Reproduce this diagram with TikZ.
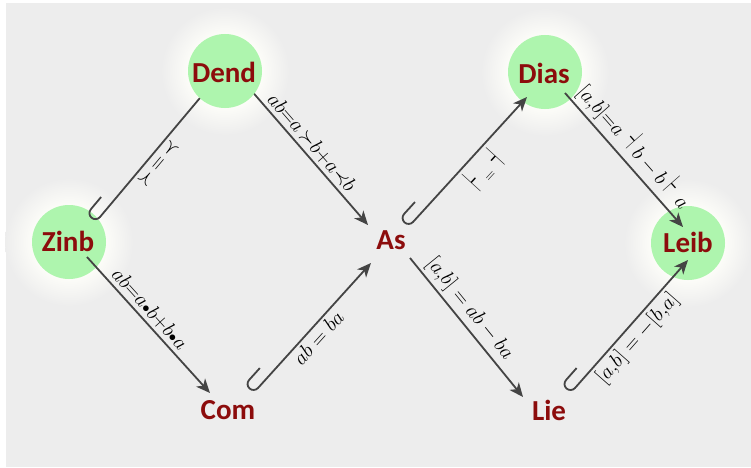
\documentclass[tikz,border=0pt]{standalone}
\usepackage{fontspec}
\usepackage{graphicx}
\newfontfamily\nodefont{Carlito}
\usetikzlibrary{arrows.meta,calc}
\definecolor{bgcol}{RGB}{237,237,237}
\definecolor{glowin}{RGB}{252,252,248}
\definecolor{nodegreen}{RGB}{174,245,174}
\definecolor{nodered}{RGB}{140,12,12}
\definecolor{linecol}{RGB}{68,68,68}
\pgfdeclareradialshading{glow}{\pgfpoint{0bp}{0bp}}{color(0bp)=(glowin); color(14.5bp)=(glowin); color(25bp)=(bgcol); color(50bp)=(bgcol)}
\newcommand\tallvdash{\mathrel{\scalebox{0.65}[1.6]{$\vdash$}\kern2pt}}
\newcommand\talldashv{\mathrel{\kern2pt\scalebox{0.65}[1.6]{$\dashv$}}}
\newcommand\smallbul{{\scalebox{0.7}{$\bullet$}}}
\begin{document}
\begin{tikzpicture}[x=1pt,y=1pt,
  lbl/.style={font=\fontsize{20.74}{25}\selectfont, text=black, sloped, inner sep=3pt},
  conn/.style={draw=linecol, line width=1.8pt, -{Stealth[length=14pt,width=12pt,inset=4pt]}},
  algname/.style={font=\nodefont\bfseries\fontsize{29}{32}\selectfont, text=nodered, inner sep=2pt},
  bubble/.style={fill=nodegreen, draw=none},
  halo/.style={shading=glow, draw=none}]
\useasboundingbox (0,0) rectangle (751,467);
\fill[bgcol] (6,0) rectangle (751,464);
% bubble positions
\coordinate (pzinb) at (69,225);
\coordinate (pdend) at (225,396);
\coordinate (pdias) at (545,395);
\coordinate (pleib) at (688,224);
% glows and bubbles
\foreach \p in {pzinb,pdend,pdias,pleib}{\shade[halo] (\p) circle[radius=64];}
\foreach \p in {pzinb,pdias,pleib}{\fill[bubble] (\p) circle[radius=37];}
% nodes
\node[algname] (zinb) at (68,226) {Zinb};
\node[algname] (dend) at (224,395) {Dend};
\node[algname] (com) at (228,57) {Com};
\node[algname] (as) at (391,227) {As};
\node[algname] (dias) at (544,394) {Dias};
\node[algname] (lie) at (549,57) {Lie};
\node[algname] (leib) at (688,225) {Leib};
% connector end points
\coordinate (e1s) at ($(zinb)+(32,24)$);
\coordinate (e1e) at ($(dend)+(-14,-14)$);
\coordinate (e2s) at ($(dend)+(19,-9)$);
\coordinate (e2e) at ($(as)+(-23,15)$);
\coordinate (e3s) at ($(zinb)+(19,-16)$);
\coordinate (e3e) at ($(com)+(-18,17)$);
\coordinate (e4s) at ($(com)+(30,22)$);
\coordinate (e4e) at ($(as)+(-20,-23)$);
\coordinate (e5s) at ($(as)+(22,18)$);
\coordinate (e5e) at ($(dias)+(-17,-24)$);
\coordinate (e6s) at ($(as)+(19,-18)$);
\coordinate (e6e) at ($(lie)+(-26,13)$);
\coordinate (e7s) at ($(dias)+(21,-20)$);
\coordinate (e7e) at ($(leib)+(-5,15)$);
\coordinate (e8s) at ($(lie)+(26,22)$);
\coordinate (e8e) at ($(leib)+(0,-18)$);
% hooked connectors
\newcommand\hookconn[4]{%
  \draw[conn] let \p1=($(#2)-(#1)$), \n1={atan2(\y1,\x1)} in
    ($(#1)+(\n1+90:12)+(\n1:16)$) -- ($(#1)+(\n1+90:12)$)
    arc[start angle=\n1+90, end angle=\n1+270, radius=6]
    -- node[lbl,below,pos=#3]{#4} (#2);}
\hookconn{e1s}{e1e}{.46}{$\succ\,=\,\prec$}
\hookconn{e4s}{e4e}{.46}{$ab = ba$}
\hookconn{e5s}{e5e}{.51}{$\scalebox{0.65}[1.8]{$\vdash$}\;{\scriptstyle=}\;\scalebox{0.65}[1.8]{$\dashv$}$}
\hookconn{e8s}{e8e}{.46}{$[a{,}b] = -[b{,}a]$}
% plain connectors
\draw[conn] (e2s) -- node[lbl,above,pos=.48]{$ab{=}a\,{\succ}b{+}a{\prec}b$} (e2e);
\draw[conn] (e3s) -- node[lbl,above,pos=.44]{$ab{=}a\smallbul b{+}b\smallbul a$} (e3e);
\draw[conn] (e6s) -- node[lbl,above,pos=.43]{$[a{,}b] = ab - ba$} (e6e);
\draw[conn] (e7s) -- node[lbl,above,pos=.48]{$[a{,}b]{=}a\talldashv b-b\tallvdash a$} (e7e);
% Dend bubble lies over its connectors
\fill[bubble] (pdend) circle[radius=37];
\node[algname] at (dend) {Dend};
\end{tikzpicture}
\end{document}
